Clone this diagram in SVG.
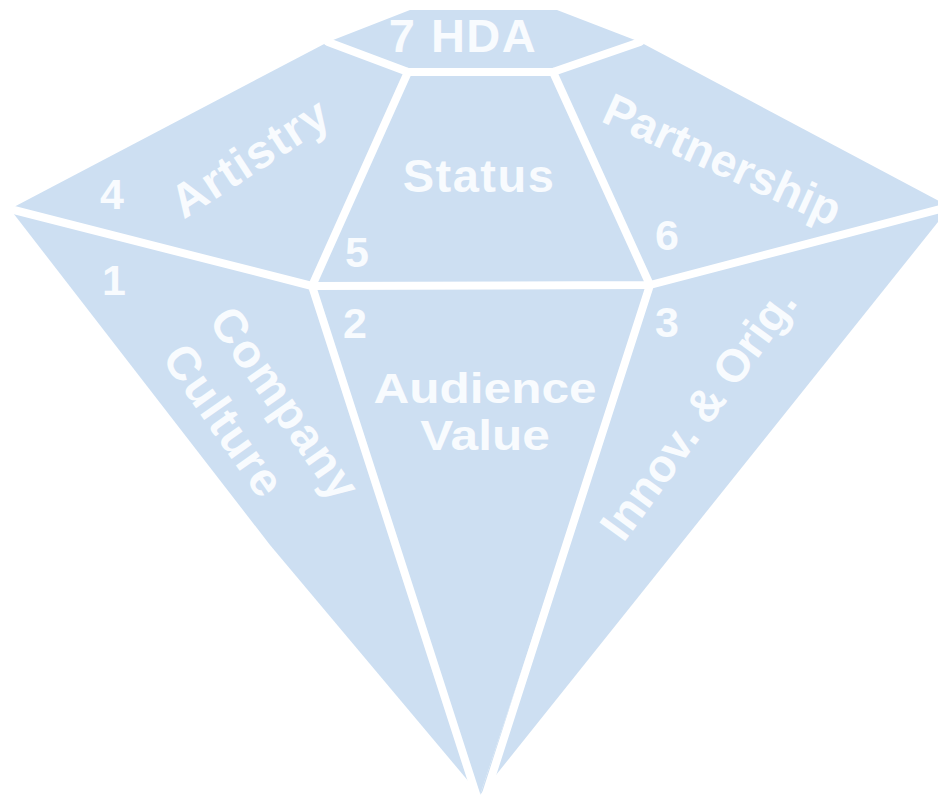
<svg xmlns="http://www.w3.org/2000/svg" width="938" height="795" viewBox="0 0 938 795">
  <style>
    .facet { fill: #cddff2; stroke: none; }
    .edge { fill: none; stroke: #ffffff; stroke-width: 8; stroke-linecap: round; stroke-linejoin: round; }
    .lbl { font-family: "Liberation Sans", Arial, sans-serif; font-weight: bold; fill: #f8fbfe; }
    .big { font-size: 47px; letter-spacing: 1.5px; }
    .wide { font-size: 42px; }
    .num { font-size: 43px; }
  </style>
  <rect x="0" y="0" width="938" height="795" fill="#ffffff"/>

  <!-- Facet 7: table -->
  <g id="facet-7-hda">
    <polygon class="facet" points="328,42 410,10 557,10 640,42 553,72 408,72"/>
    <text class="lbl big" x="463" y="52" text-anchor="middle">7 HDA</text>
  </g>

  <!-- Facet 4: upper left crown -->
  <g id="facet-4-artistry">
    <polygon class="facet" points="10,209 328,42 408,72 312,286"/>
    <text class="lbl num" x="100" y="209">4</text>
    <text class="lbl big" transform="translate(259,171) rotate(-33)" text-anchor="middle">Artistry</text>
  </g>

  <!-- Facet 5: upper centre crown -->
  <g id="facet-5-status">
    <polygon class="facet" points="408,72 553,72 650,285 312,286"/>
    <text class="lbl big" x="479" y="192" text-anchor="middle">Status</text>
    <text class="lbl num" x="345" y="267">5</text>
  </g>

  <!-- Facet 6: upper right crown -->
  <g id="facet-6-partnership">
    <polygon class="facet" points="553,72 640,42 950,207 650,285"/>
    <text class="lbl" font-size="46" transform="translate(716,174) rotate(24.5)" text-anchor="middle">Partnership</text>
    <text class="lbl num" x="655" y="250">6</text>
  </g>

  <!-- Facet 1: left pavilion -->
  <g id="facet-1-company-culture">
    <polygon class="facet" points="10,209 312,286 480,795 270,545"/>
    <text class="lbl num" x="102" y="295">1</text>
    <text class="lbl big" transform="translate(272,413) rotate(55)" text-anchor="middle">Company</text>
    <text class="lbl big" transform="translate(211,430) rotate(55)" text-anchor="middle">Culture</text>
  </g>

  <!-- Facet 2: centre pavilion -->
  <g id="facet-2-audience-value">
    <polygon class="facet" points="312,286 650,285 480,795"/>
    <text class="lbl num" x="343" y="338">2</text>
    <text class="lbl wide" transform="translate(485,403) scale(1.18,1)" text-anchor="middle">Audience</text>
    <text class="lbl wide" transform="translate(485,450) scale(1.18,1)" text-anchor="middle">Value</text>
  </g>

  <!-- Facet 3: right pavilion -->
  <g id="facet-3-innovation">
    <polygon class="facet" points="650,285 950,207 480,795"/>
    <text class="lbl num" x="655" y="337">3</text>
    <text class="lbl" font-size="46" transform="translate(711,423) rotate(-54)" text-anchor="middle">Innov. &amp; Orig.</text>
  </g>

  <!-- White facet boundaries -->
  <g id="connectors">
    <polyline class="edge" points="328,42 408,72 553,72 640,42"/>
    <line class="edge" x1="408" y1="72" x2="312" y2="286"/>
    <line class="edge" x1="553" y1="72" x2="650" y2="285"/>
    <polyline class="edge" points="6,208 312,286 650,285 952,206"/>
    <line class="edge" x1="312" y1="286" x2="477" y2="797"/>
    <line class="edge" x1="650" y1="285" x2="485" y2="797"/>
  </g>
</svg>
